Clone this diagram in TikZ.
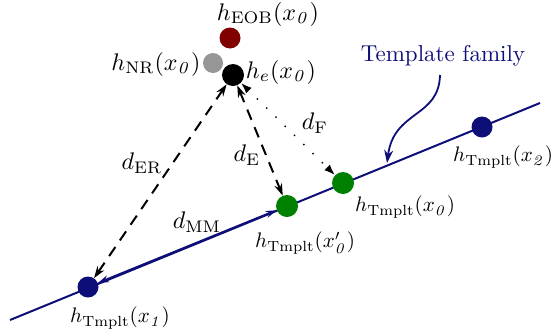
\documentclass[tikz,border=0pt]{standalone}
\usepackage{graphicx}
\usetikzlibrary{arrows.meta}
\definecolor{navyb}{RGB}{14,14,120}
\definecolor{dgreen}{RGB}{0,128,0}
\definecolor{maroonc}{RGB}{128,0,0}
\definecolor{grayc}{RGB}{150,150,150}
\newcommand{\bigtxt}[1]{\scalebox{2.4}{#1}}
\newcommand{\tmptxt}[1]{\scalebox{2.1}{#1}}
\begin{document}
\begin{tikzpicture}[x=1pt,y=-1pt,
  dot/.style={circle,inner sep=0pt,minimum size=21pt,fill=#1},
  lab/.style={inner sep=0pt},
  darrow/.style={black,line width=2pt,dash pattern=on 11pt off 8pt,
    {Stealth[length=12pt,width=8pt]}-{Stealth[length=12pt,width=8pt]}},
  farrow/.style={black,line width=2pt,line cap=round,dash pattern=on 0pt off 13pt,
    {Latex[length=11pt,width=8pt]}-{Latex[length=11pt,width=8pt]}},
  tline/.style={navyb,line width=2pt},
]
\useasboundingbox (0,0) rectangle (556,335);
% template family line
\coordinate (L1) at (10,320);
\coordinate (L2) at (540,103);
\draw[tline] (L1) -- (L2);
% points
\node[dot=navyb] (x1) at (88,287) {};
\node[dot=dgreen,minimum size=22pt] (x0p) at (287,206) {};
\node[dot=dgreen,minimum size=22pt] (x0) at (343,183) {};
\node[dot=navyb] (x2) at (482,127) {};
\node[dot=maroonc] (eob) at (230,38) {};
\node[dot=grayc,minimum size=20pt] (nr) at (213,63) {};
\node[dot=black,minimum size=22pt] (he) at (233,75) {};
% distances
\draw[navyb,line width=2pt,{Stealth[length=11pt,width=7pt]}-{Stealth[length=11pt,width=7pt]}] (x0p) -- (x1);
\draw[darrow] (he) -- (x1);
\draw[darrow] (he) -- (x0p);
\draw[farrow] (he) -- (x0);
% labels
\node[lab] (leob) at (268,14) {\bigtxt{$h_{\mathrm{EOB}}(x_{\mathit{0}})$}};
\node[lab] (lnr) at (156,64) {\bigtxt{$h_{\mathrm{NR}}(x_{\mathit{0}})$}};
\node[lab] (lhe) at (281,72) {\bigtxt{$h_{e}(x_{\mathit{0}})$}};
\node[lab] (ldf) at (315,123) {\bigtxt{$d_{\mathrm{F}}$}};
\node[lab] (lde) at (247,155) {\bigtxt{$d_{\mathrm{E}}$}};
\node[lab] (lder) at (142,163) {\bigtxt{$d_{\mathrm{ER}}$}};
\node[lab] (ldmm) at (197,222) {\bigtxt{$d_{\mathrm{MM}}$}};
\node[lab,anchor=west] (lt0p) at (255,243) {\tmptxt{$h_{\mathrm{Tmplt}}(x'_{\mathit{0}})$}};
\node[lab,anchor=west] (lt0) at (355,207) {\tmptxt{$h_{\mathrm{Tmplt}}(x_{\mathit{0}})$}};
\node[lab,anchor=west] (lt2) at (453,157) {\tmptxt{$h_{\mathrm{Tmplt}}(x_{\mathit{2}})$}};
\node[lab,anchor=west] (lt1) at (70,318) {\tmptxt{$h_{\mathrm{Tmplt}}(x_{\mathit{1}})$}};
% template family annotation
\node[text=navyb,inner sep=0pt] (tf) at (443,56) {\scalebox{2.3}{Template family}};
\coordinate (tftip) at (387,163);
\draw[navyb,line width=1.8pt,-{Stealth[length=13pt,width=9pt]}] (440,75) .. controls (439,118) and (394,110) .. (tftip);
\end{tikzpicture}
\end{document}
